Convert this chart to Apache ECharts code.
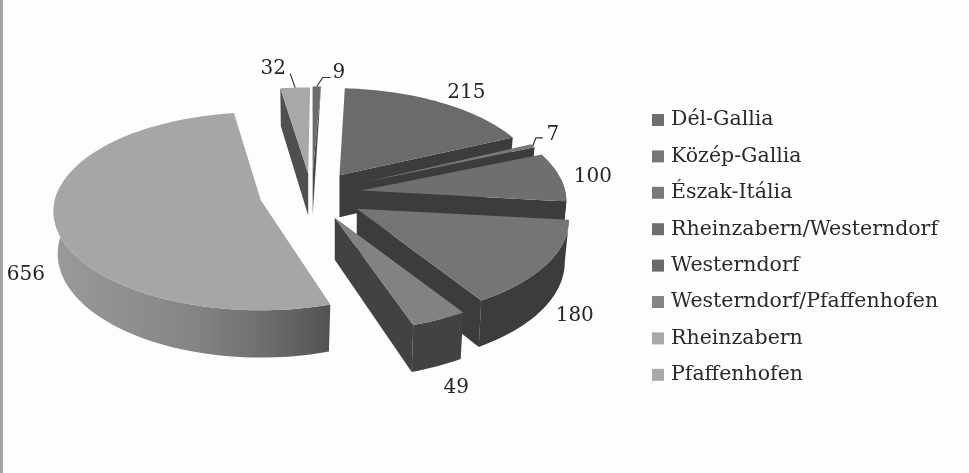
<!DOCTYPE html>
<html><head><meta charset="utf-8">
<script src="https://cdn.jsdelivr.net/npm/echarts@6/dist/echarts.min.js"></script>
<style>html,body{margin:0;padding:0;background:#fdfdfd}#c{width:969px;height:473px}</style>
</head><body><div id="c"></div>
<script>
var categories = ['Dél-Gallia','Közép-Gallia','Észak-Itália','Rheinzabern/Westerndorf','Westerndorf','Westerndorf/Pfaffenhofen','Rheinzabern','Pfaffenhofen'];
var values = [9,215,7,100,180,49,656,32];
var topColors = ['#6c6c6c','#6b6b6b','#787878','#6f6f6f','#757575','#828282','#a6a6a6','#a8a8a8'];
var legendColors = ['#6f6f6f','#767676','#7a7a7a','#6e6e6e','#6a6a6a','#858585','#a8a8a8','#a8a8a8'];
var wallColors = ['#474747','#3d3b3c','#3d3b3c','#3d3b3c','#3d3b3c','#434142','#555555','#4f4f4f'];
var explode = [0.21,0.27,0.28,0.26,0.28,0.30,0.24,0.21];
var tipNudge = [[3,0],[0,3],[0,0],[0,0],[0,0],[1,-3],[1,1],[3,0]];
var rimShift = [[-3,1],[-6,1],[-9,0],[-2,0],[5,0],[9,3],[0,0],[-1,2]];
var cutFace = ['taper','end','end','end','end','end','none','start'];
var labelOffset = [[22,-14],[26,-10],[20,-11],[33,0],[28,52],[17,68],[-29,52],[-22,-19]];
var leaders = [
  [[0,0],[6,-9],[14,-9]],
  null,
  [[0,0],[3,-8],[10,-8]],
  null,null,null,null,
  [[0,0],[-5,-14]]
];
var FIRST = 0.9; // rotation of the first slice, degrees
var CX = 308, CY = 194, RX = 206, RY = 97.8, K = 0.111, DEPTH = 42, BOTTOM = 0.98;
var total = values.reduce(function(a,b){return a+b;},0);

function dirOf(deg){ var t = deg*Math.PI/180; return {u:Math.sin(t), v:-Math.cos(t)}; }
function rimPoint(deg,i){
  var d = dirOf(deg), s = 1/(1-K*d.v);
  return {x:RX*d.u*s+rimShift[i][0], y:RY*d.v*s+rimShift[i][1], s:s};
}
function sliceGeometry(i){
  var before = 0; for (var j=0;j<i;j++) before += values[j];
  var a0 = FIRST + before/total*360, a1 = a0 + values[i]/total*360, mid = (a0+a1)/2;
  var m = dirOf(mid);
  return {a0:a0,a1:a1,mid:mid,tx:CX+explode[i]*RX*m.u+tipNudge[i][0],ty:CY+explode[i]*RY*m.v+tipNudge[i][1]};
}
function renderSlice(i){
  return function(params, api){
    var g = sliceGeometry(i), n = Math.max(2, Math.ceil((g.a1-g.a0)/2));
    var topPts = [[g.tx,g.ty]], rim = [];
    for (var k=0;k<=n;k++){
      var deg = g.a0+(g.a1-g.a0)*k/n, p = rimPoint(deg,i);
      var pt = [g.tx+p.x, g.ty+p.y], bt = [g.tx+p.x*BOTTOM, g.ty+p.y+DEPTH*p.s];
      topPts.push(pt);
      if (Math.cos(deg*Math.PI/180) < 0.15) rim.push({t:pt,b:bt});
    }
    var children = [];
    function poly(points, fill){ children.push({type:'polygon',shape:{points:points},style:{fill:fill,stroke:null}}); }
    function face(deg){
      var p = rimPoint(deg,i);
      return [[g.tx,g.ty],[g.tx+p.x,g.ty+p.y],[g.tx+p.x*BOTTOM,g.ty+p.y+DEPTH*p.s],[g.tx,g.ty+DEPTH]];
    }
    if (rim.length > 1){
      var rp = rim.map(function(r){return r.t;}).concat(rim.map(function(r){return r.b;}).reverse());
      var fill = wallColors[i];
      if (cutFace[i] === 'none'){
        fill = new echarts.graphic.LinearGradient(0,0,1,0,[
          {offset:0,color:'#9a9a9a'},{offset:0.5,color:'#858585'},{offset:0.78,color:'#6c6c6c'},{offset:1,color:'#525252'}]);
      }
      poly(rp, fill);
    }
    if (cutFace[i] === 'end') poly(face(g.a1), wallColors[i]);
    if (cutFace[i] === 'start') poly(face(g.a0), wallColors[i]);
    if (cutFace[i] === 'taper'){
      var q = rimPoint(g.a1,i);
      poly([[g.tx+q.x,g.ty+q.y],[g.tx,g.ty+DEPTH],[g.tx,g.ty]], wallColors[i]);
    }
    poly(topPts, topColors[i]);
    var mp = rimPoint(g.mid,i), ax = g.tx+mp.x, ay = g.ty+mp.y;
    if (leaders[i]){
      children.push({type:'polyline',shape:{points:leaders[i].map(function(o){return [ax+o[0],ay+o[1]];})},
        style:{stroke:'#333',lineWidth:1.2,fill:null}});
    }
    children.push({type:'text',style:{text:String(values[i]),x:ax+labelOffset[i][0],y:ay+labelOffset[i][1],
      align:'center',verticalAlign:'middle',font:'20px "DejaVu Serif"',fill:'#262626'}});
    return {type:'group',children:children};
  };
}
var series = categories.map(function(name,i){
  return {type:'custom',name:name,coordinateSystem:'none',data:[[values[i]]],renderItem:renderSlice(i),
    itemStyle:{color:legendColors[i]},animation:false,silent:true,clip:false};
});
var chart = echarts.init(document.getElementById('c'),null,{renderer:'canvas'});
chart.setOption({
  animation:false,
  backgroundColor:'#fdfdfd',
  graphic:[{type:'rect',shape:{x:0,y:0,width:3,height:473},style:{fill:'#a3a3a3'},silent:true}],
  legend:{orient:'vertical',left:647,top:103,itemWidth:12,itemHeight:12,itemGap:12.4,icon:'rect',
    selectedMode:false,data:categories,
    textStyle:{fontFamily:'DejaVu Serif',fontSize:20.5,color:'#2a2a2a',padding:[0,0,0,2],lineHeight:24}},
  series:series
});
</script></body></html>
